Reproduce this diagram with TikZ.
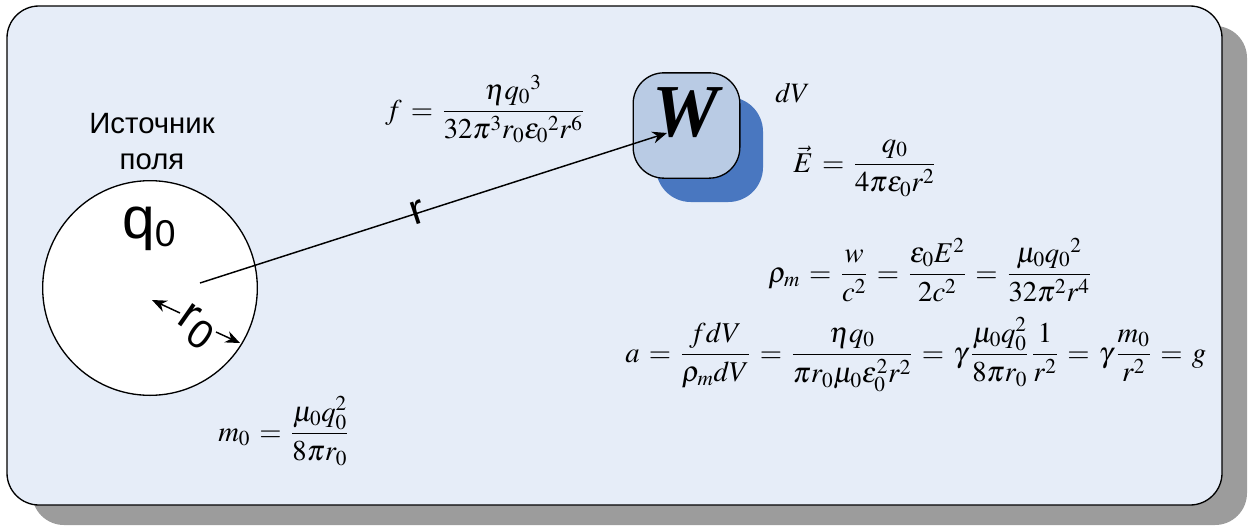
\documentclass[tikz,border=0pt]{standalone}
\usepackage{amsmath}
\usepackage{mathptmx}
\usepackage{fontspec}
\setmainfont{Liberation Serif}
\newfontfamily\arialf{Liberation Sans}
\usetikzlibrary{arrows.meta}
\definecolor{bgblue}{RGB}{230,237,248}
\definecolor{shgray}{RGB}{156,156,156}
\definecolor{wfill}{RGB}{185,203,228}
\definecolor{wshadow}{RGB}{73,119,192}
\thickmuskip=5.75mu
\tikzset{
  formula/.style={anchor=base west, inner sep=0pt, font=\fontsize{21.5}{25}\selectfont},
  sanslab/.style={inner sep=0pt, font=\arialf},
  arr/.style={-{Stealth[length=11pt,width=9pt]}, line width=1.1pt},
}
\begin{document}
\begin{tikzpicture}[x=0.75pt,y=-0.75pt]
\useasboundingbox (0,0) rectangle (1252,525);
% main panel with shadow
\fill[shgray, rounded corners=24pt] (32,26) rectangle (1247,525);
\draw[fill=bgblue, rounded corners=24pt, line width=1pt] (7,6) rectangle (1222,505);
% source sphere
\node[circle, draw, fill=white, line width=1pt, minimum size=161pt, inner sep=0pt] (src) at (150,288) {};
\node[sanslab, align=center, font=\arialf\fontsize{22}{26}\selectfont] (title) at (152,142) {Источник\\[1pt]поля};
\node[sanslab, anchor=base] (q0) at (149,238) {\fontsize{44}{46}\selectfont q\raisebox{-6pt}{\fontsize{28}{30}\selectfont 0}};
% volume element
\fill[wshadow, rounded corners=26pt] (656,97) rectangle (763,202);
\node[draw, fill=wfill, line width=1pt, rounded corners=23pt, minimum width=80pt, minimum height=79pt, inner sep=0pt] (wbox) at (686.5,125.5) {};
\coordinate (rstart) at (200,283);
\coordinate (wtip) at (667,133);
\draw[arr] (rstart) -- (wtip);
\node[inner sep=0pt, font=\fontsize{56}{58}\selectfont\bfseries\itshape] (wlab) at (686,113) {W};
\node[sanslab, rotate=18, font=\arialf\fontsize{32}{34}\selectfont] (rlab) at (418,212) {r};
% radius r0
\coordinate (ctr) at (152,300);
\coordinate (rim) at (240,343);
\coordinate (g1) at (180,313);
\coordinate (g2) at (216,332);
\draw[arr] (g1) -- (ctr);
\draw[arr] (g2) -- (rim);
\node[sanslab, rotate=-35, font=\arialf\fontsize{36}{38}\selectfont] (r0lab) at (196,327) {r\raisebox{-7pt}{\fontsize{30}{32}\selectfont 0}};
% formulas
\node[formula, font=\fontsize{21}{25}\selectfont] (dv) at (775,102) {$dV$};
\node[formula] (ff) at (385,119) {$f=\dfrac{\eta q_0{}^3}{32\pi^3 r_0\varepsilon_0{}^2r^6}$};
\node[formula] (ef) at (793,172) {$\vec E=\dfrac{q_0}{4\pi\varepsilon_0 r^2}$};
\node[formula] (rho) at (768,282) {$\rho_m=\dfrac{w}{c^2}=\dfrac{\varepsilon_0E^2}{2c^2}=\dfrac{\mu_0q_0{}^2}{32\pi^2r^4}$};
\node[formula] (af) at (625,362) {$a=\dfrac{fdV}{\rho_m dV}=\dfrac{\eta q_0}{\pi r_0\mu_0\varepsilon_0^2r^2}=\gamma\,\dfrac{\mu_0q_0^2}{8\pi r_0}\,\dfrac{1}{r^2}=\gamma\,\dfrac{m_0}{r^2}=g$};
\node[formula] (mf) at (218,441) {$m_0=\dfrac{\mu_0q_0^2}{8\pi r_0}$};
\end{tikzpicture}
\end{document}
